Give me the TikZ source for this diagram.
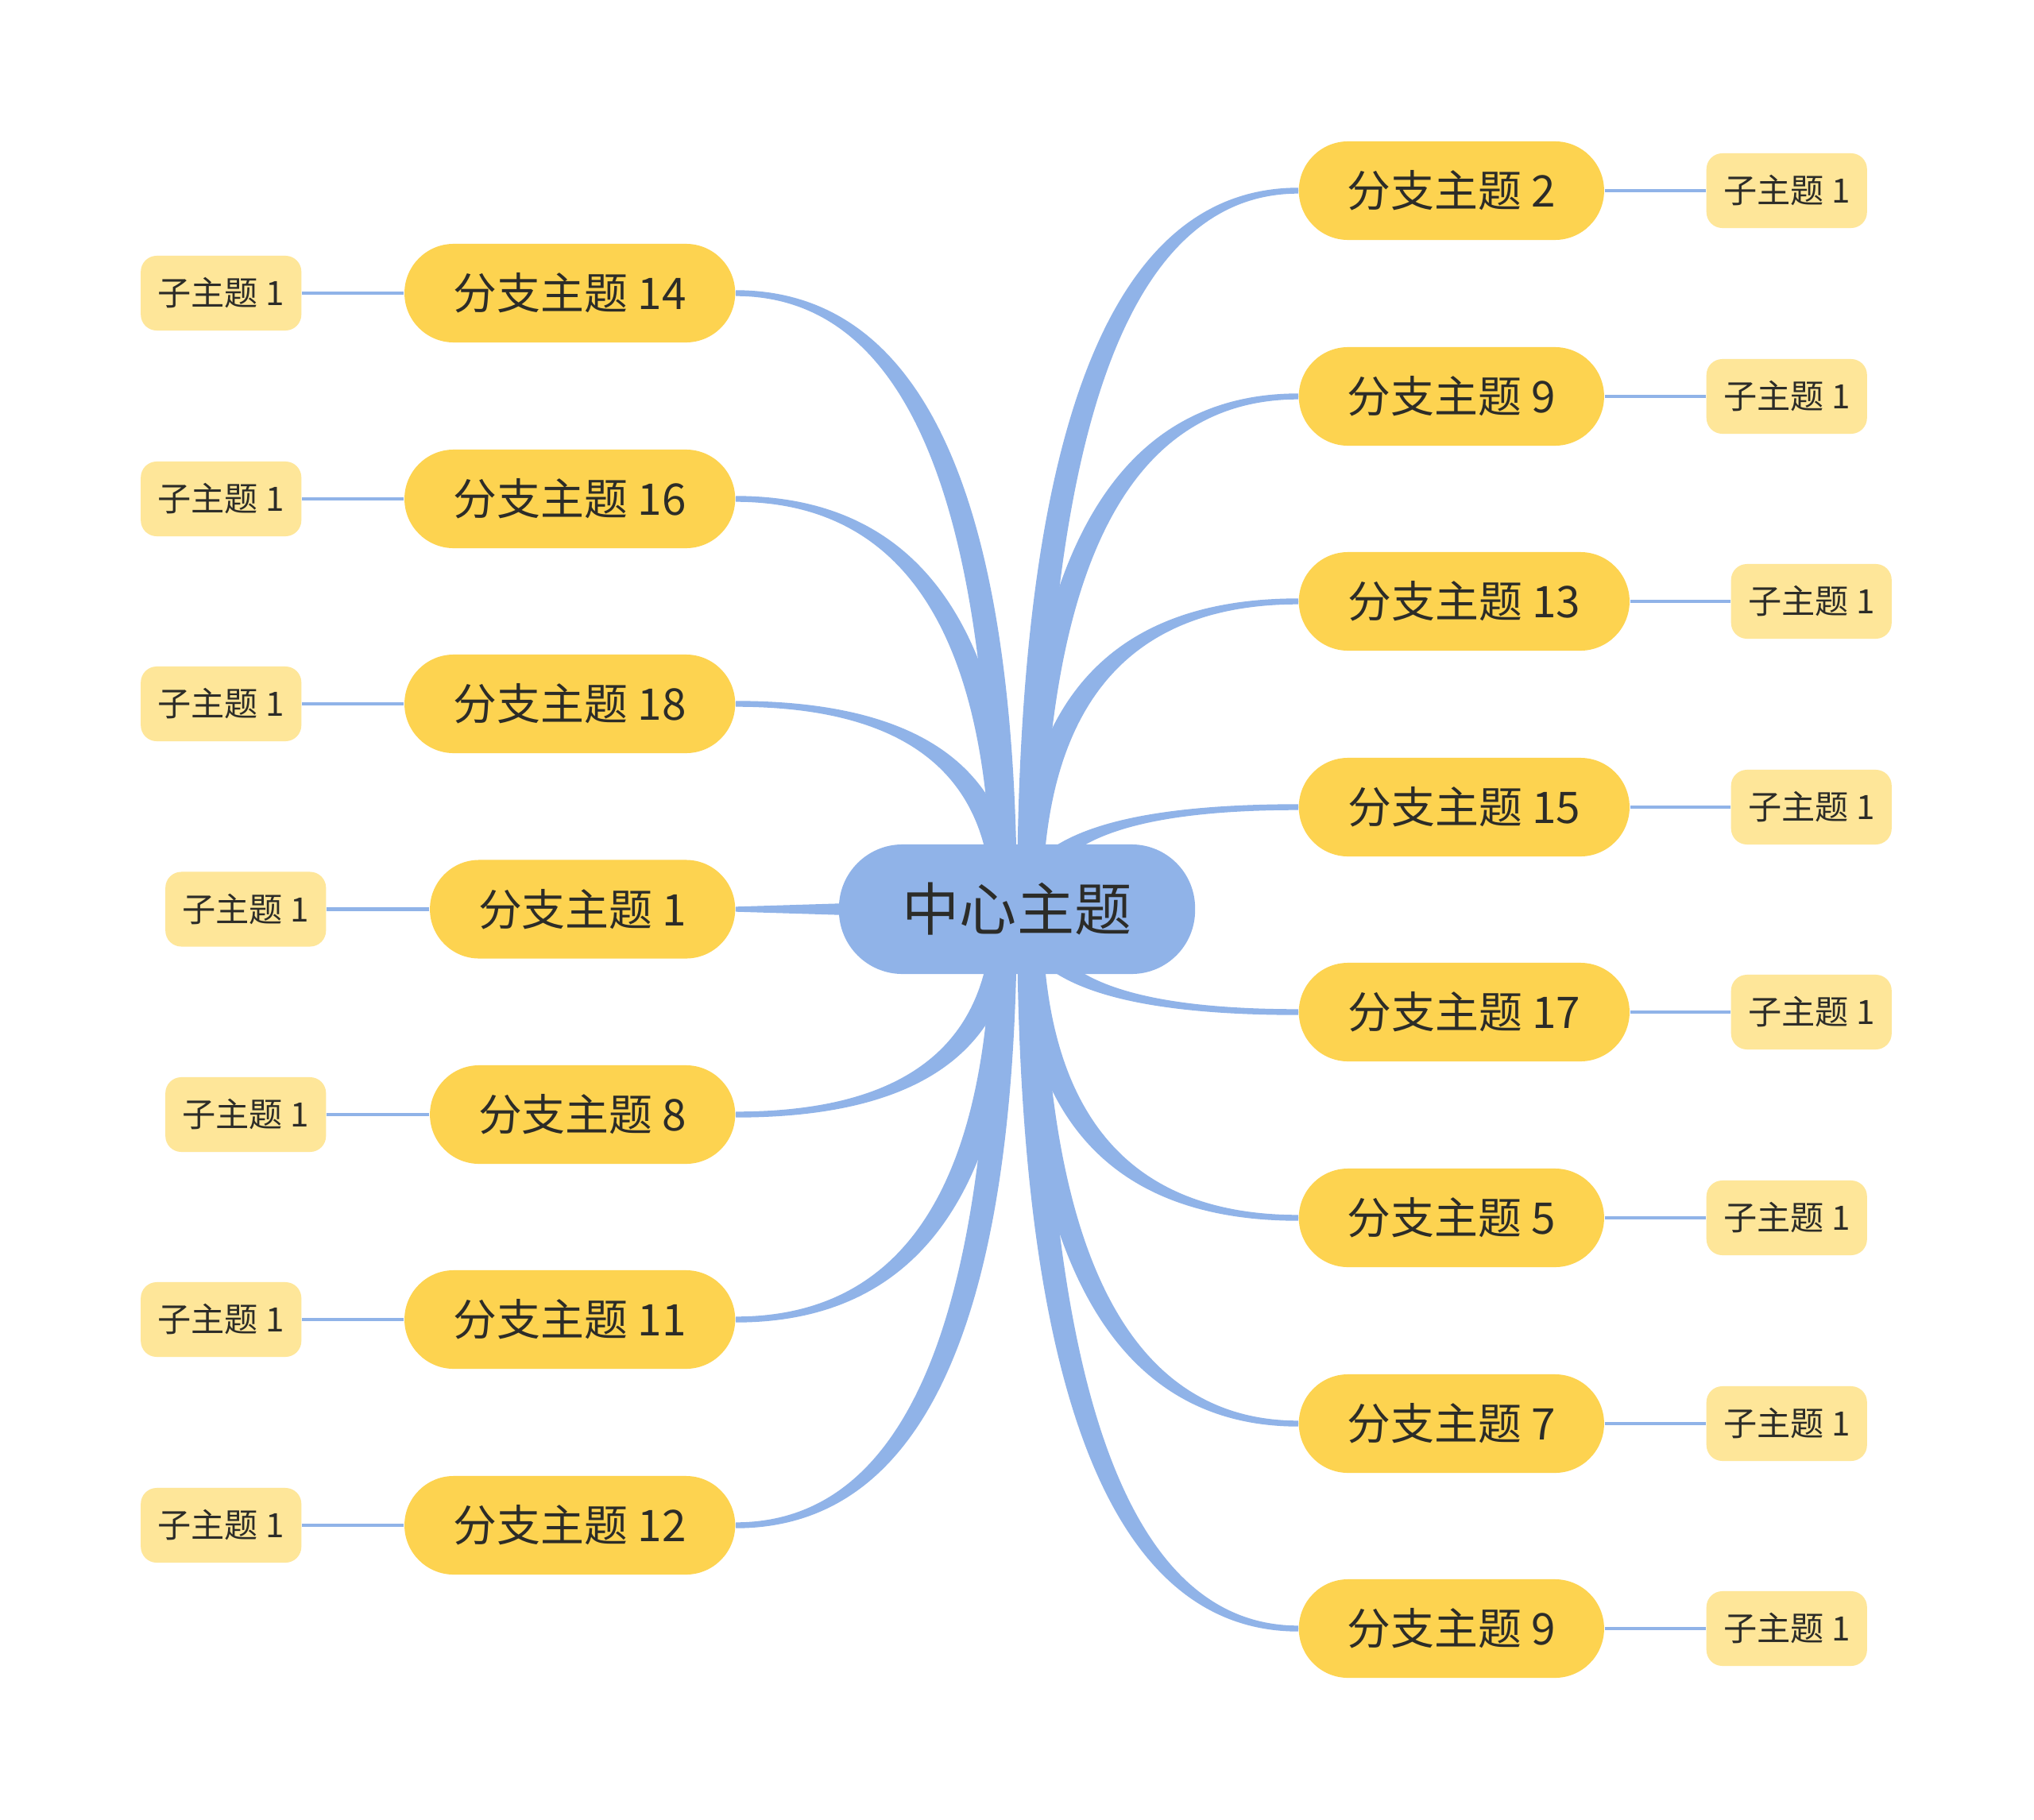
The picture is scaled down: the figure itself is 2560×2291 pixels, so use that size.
\documentclass[tikz,border=0pt]{standalone}
\usepackage{fontspec}
\setmainfont{Noto Sans CJK SC}
\usetikzlibrary{calc}
\definecolor{cblue}{RGB}{144,179,232}
\definecolor{cyel}{RGB}{253,211,80}
\definecolor{clight}{RGB}{254,230,153}
\definecolor{ctext}{RGB}{44,44,40}
\pgfdeclarelayer{bg}
\pgfsetlayers{bg,main}
% tapered connector: #1 base coordinate, #2 end point, #3 signed end half-width
\newcommand{\tconn}[3]{%
  \fill[cblue] let \p1=(#1), \p2=(#2) in
   ({\x1-4.55pt},\y1) .. controls ({\x1-4.55pt},{\y1+2/3*(\y2+(#3)-\y1)}) and ({\x2+2/3*(\x1-4.55pt-\x2)},{\y2+(#3)}) .. (\x2,{\y2+(#3)})
   -- (\x2,{\y2-(#3)}) .. controls ({\x2+2/3*(\x1+4.55pt-\x2)},{\y2-(#3)}) and ({\x1+4.55pt},{\y1+2/3*(\y2-(#3)-\y1)}) .. ({\x1+4.55pt},\y1) -- cycle;}
\tikzset{
  mainnode/.style={fill=cblue, rounded corners=0.8cm, minimum width=4.48cm, minimum height=1.63cm, inner sep=0pt, font=\fontsize{20.5}{24}\selectfont, text=ctext},
  brnode/.style={fill=cyel, rounded corners=0.62cm, minimum height=1.24cm, inner sep=0pt, font=\fontsize{15.6}{19}\selectfont, text=ctext},
  brshort/.style={brnode, minimum width=3.84cm},
  brlong/.style={brnode, minimum width=4.16cm},
  subnode/.style={fill=clight, rounded corners=0.2cm, minimum width=2.02cm, minimum height=0.94cm, inner sep=0pt, font=\fontsize{12}{14}\selectfont, text=ctext},
  subline/.style={draw=cblue, line width=1.4pt},
}
\begin{document}
\begin{tikzpicture}[x=0.01cm, y=-0.01cm]
\useasboundingbox (0,0) rectangle (2560,2291);
\begin{pgfonlayer}{bg}
\fill[white] (0,0) rectangle (2560,2291);
\end{pgfonlayer}

% center
\node[mainnode] (ctr) at (1280,1144.5) {中心主题};

% right branches
\node[brshort, anchor=west] (bR1) at (1634,240) {分支主题 2};
\node[brshort, anchor=west] (bR2) at (1634,499) {分支主题 9};
\node[brlong,  anchor=west] (bR3) at (1634,757) {分支主题 13};
\node[brlong,  anchor=west] (bR4) at (1634,1016) {分支主题 15};
\node[brlong,  anchor=west] (bR5) at (1634,1274) {分支主题 17};
\node[brshort, anchor=west] (bR6) at (1634,1533) {分支主题 5};
\node[brshort, anchor=west] (bR7) at (1634,1792) {分支主题 7};
\node[brshort, anchor=west] (bR8) at (1634,2050) {分支主题 9};

% left branches
\node[brlong,  anchor=east] (bL1) at (926,369) {分支主题 14};
\node[brlong,  anchor=east] (bL2) at (926,628) {分支主题 16};
\node[brlong,  anchor=east] (bL3) at (926,886) {分支主题 18};
\node[brshort, anchor=east] (bL4) at (926,1144.5) {分支主题 1};
\node[brshort, anchor=east] (bL5) at (926,1403) {分支主题 8};
\node[brlong,  anchor=east] (bL6) at (926,1661) {分支主题 11};
\node[brlong,  anchor=east] (bL7) at (926,1920) {分支主题 12};

% right subtopics
\node[subnode, anchor=west] (sR1) at (2147,240) {子主题 1};
\node[subnode, anchor=west] (sR2) at (2147,499) {子主题 1};
\node[subnode, anchor=west] (sR3) at (2178,757) {子主题 1};
\node[subnode, anchor=west] (sR4) at (2178,1016) {子主题 1};
\node[subnode, anchor=west] (sR5) at (2178,1274) {子主题 1};
\node[subnode, anchor=west] (sR6) at (2147,1533) {子主题 1};
\node[subnode, anchor=west] (sR7) at (2147,1792) {子主题 1};
\node[subnode, anchor=west] (sR8) at (2147,2050) {子主题 1};

% left subtopics
\node[subnode, anchor=east] (sL1) at (380,369) {子主题 1};
\node[subnode, anchor=east] (sL2) at (380,628) {子主题 1};
\node[subnode, anchor=east] (sL3) at (380,886) {子主题 1};
\node[subnode, anchor=east] (sL4) at (411,1144.5) {子主题 1};
\node[subnode, anchor=east] (sL5) at (411,1403) {子主题 1};
\node[subnode, anchor=east] (sL6) at (380,1661) {子主题 1};
\node[subnode, anchor=east] (sL7) at (380,1920) {子主题 1};

% base coordinates of the tapered connectors (inside the centre node)
\coordinate (kR) at (1296,1144.5);
\coordinate (kL) at (1264,1144.5);

\begin{pgfonlayer}{bg}
% upper right
\foreach \i in {1,...,4} { \tconn{kR}{bR\i.west}{1.05pt} }
% lower right
\foreach \i in {5,...,8} { \tconn{kR}{bR\i.west}{-1.05pt} }
% upper left
\foreach \i in {1,...,3} { \tconn{kL}{bL\i.east}{-1.05pt} }
% lower left
\foreach \i in {5,...,7} { \tconn{kL}{bL\i.east}{1.05pt} }
% horizontal connector to branch 1
\fill[cblue] let \p1=(ctr.center), \p2=(bL4.east) in
  (\x1,{\y1+4pt}) -- (\x2,{\y2+0.9pt}) -- (\x2,{\y2-0.9pt}) -- (\x1,{\y1-4pt}) -- cycle;
% sub-topic lines
\foreach \i in {1,...,8} { \draw[subline] (bR\i.east) -- (sR\i.west); }
\foreach \i in {1,...,7} { \draw[subline] (bL\i.west) -- (sL\i.east); }
\end{pgfonlayer}
\end{tikzpicture}
\end{document}
